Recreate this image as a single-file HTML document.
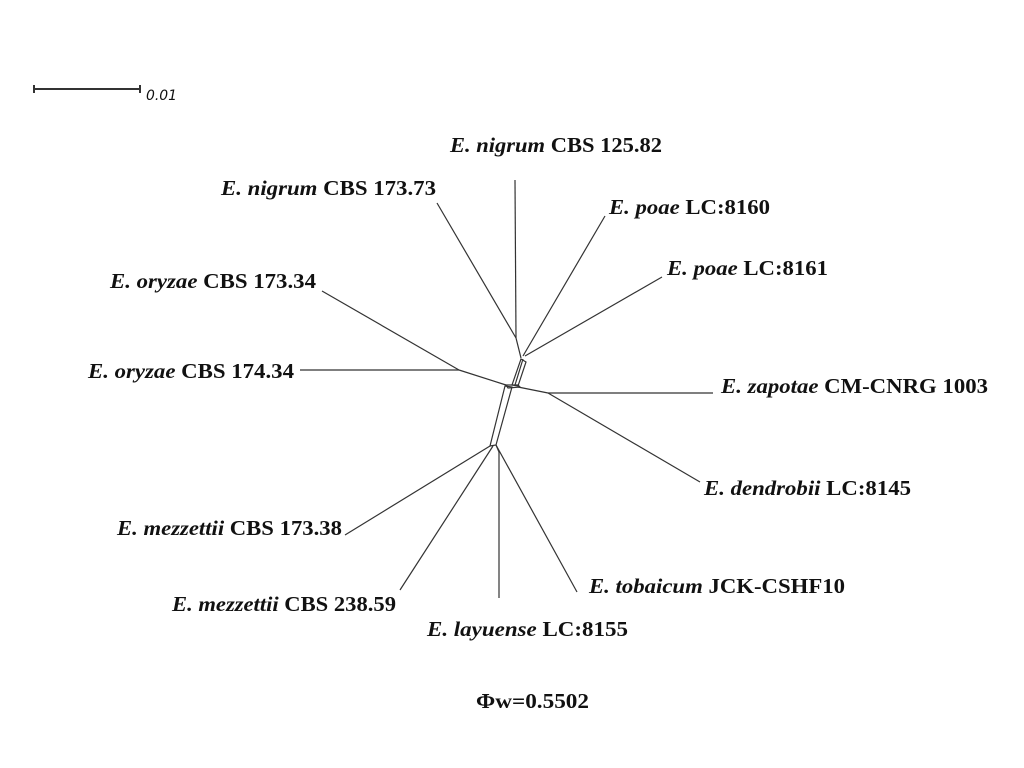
<!DOCTYPE html>
<html><head><meta charset="utf-8"><style>
html,body{margin:0;padding:0;background:#fff;}
svg{display:block;}
text{font-family:"Liberation Serif",serif;font-weight:bold;font-size:21px;fill:#111;}
</style></head><body>
<svg width="1024" height="768" viewBox="0 0 1024 768">
<g stroke="#333" stroke-width="1.2" fill="none">
<line x1="34" y1="89" x2="140" y2="89" stroke-width="2"/>
<line x1="34" y1="85" x2="34" y2="93" stroke-width="2"/>
<line x1="140" y1="85" x2="140" y2="93" stroke-width="2"/>
<line x1="515" y1="180" x2="516" y2="338"/>
<line x1="437" y1="203" x2="516" y2="338"/>
<line x1="516" y1="338" x2="521" y2="358"/>
<line x1="605" y1="216" x2="523" y2="356"/>
<line x1="662" y1="277" x2="525" y2="356"/>
<polygon points="521,359 526,362 518,386 512,385"/>
<line x1="523" y1="359" x2="515" y2="385"/>
<line x1="300" y1="370" x2="459" y2="370"/>
<line x1="322" y1="291" x2="459" y2="370"/>
<line x1="459" y1="370" x2="506" y2="385"/>
<line x1="518" y1="387" x2="548" y2="393"/>
<line x1="548" y1="393" x2="713" y2="393"/>
<line x1="548" y1="393" x2="700" y2="482"/>
<polygon points="506,385 518,385 520,387 508,388"/>
<polygon points="505,386 512,387 496,445 490,446"/>
<line x1="490" y1="446" x2="345" y2="535"/>
<line x1="493" y1="446" x2="400" y2="590"/>
<line x1="499" y1="452" x2="499" y2="598"/>
<line x1="496" y1="445" x2="499" y2="452"/>
<line x1="496" y1="445" x2="577" y2="592"/>
</g>
<text x="146" y="100" textLength="31" lengthAdjust="spacingAndGlyphs" style="font-family:'DejaVu Sans',sans-serif;font-weight:normal;font-style:italic;font-size:14px">0.01</text>
<text x="450" y="152" textLength="212" lengthAdjust="spacingAndGlyphs"><tspan font-style="italic">E. nigrum</tspan> CBS 125.82</text>
<text x="221" y="195" textLength="215" lengthAdjust="spacingAndGlyphs"><tspan font-style="italic">E. nigrum</tspan> CBS 173.73</text>
<text x="609" y="214" textLength="161" lengthAdjust="spacingAndGlyphs"><tspan font-style="italic">E. poae</tspan> LC:8160</text>
<text x="667" y="275" textLength="161" lengthAdjust="spacingAndGlyphs"><tspan font-style="italic">E. poae</tspan> LC:8161</text>
<text x="110" y="288" textLength="206" lengthAdjust="spacingAndGlyphs"><tspan font-style="italic">E. oryzae</tspan> CBS 173.34</text>
<text x="88" y="378" textLength="206" lengthAdjust="spacingAndGlyphs"><tspan font-style="italic">E. oryzae</tspan> CBS 174.34</text>
<text x="721" y="393" textLength="267" lengthAdjust="spacingAndGlyphs"><tspan font-style="italic">E. zapotae</tspan> CM-CNRG 1003</text>
<text x="704" y="495" textLength="207" lengthAdjust="spacingAndGlyphs"><tspan font-style="italic">E. dendrobii</tspan> LC:8145</text>
<text x="117" y="535" textLength="225" lengthAdjust="spacingAndGlyphs"><tspan font-style="italic">E. mezzettii</tspan> CBS 173.38</text>
<text x="172" y="611" textLength="224" lengthAdjust="spacingAndGlyphs"><tspan font-style="italic">E. mezzettii</tspan> CBS 238.59</text>
<text x="589" y="593" textLength="256" lengthAdjust="spacingAndGlyphs"><tspan font-style="italic">E. tobaicum</tspan> JCK-CSHF10</text>
<text x="427" y="636" textLength="201" lengthAdjust="spacingAndGlyphs"><tspan font-style="italic">E. layuense</tspan> LC:8155</text>
<text x="476" y="708" textLength="113" lengthAdjust="spacingAndGlyphs">Φw=0.5502</text>
</svg>
</body></html>
